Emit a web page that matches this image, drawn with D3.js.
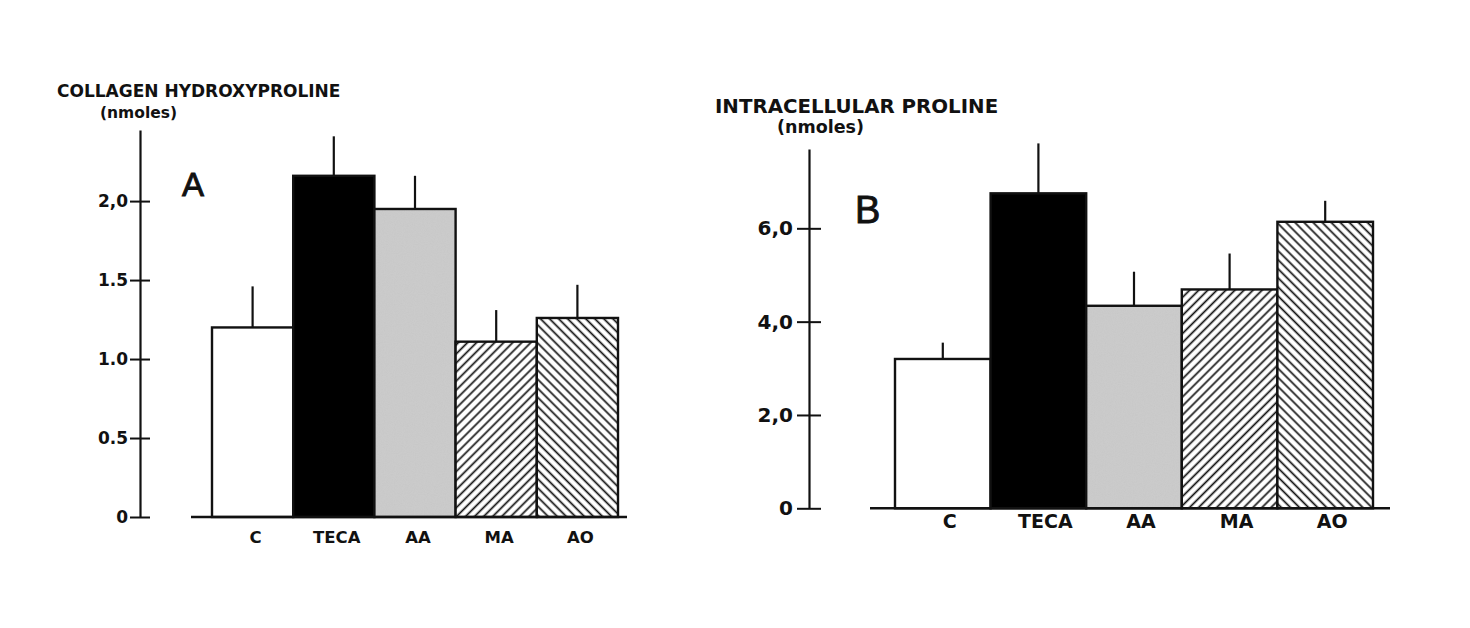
<!DOCTYPE html>
<html>
<head>
<meta charset="utf-8">
<script src="https://cdn.jsdelivr.net/npm/d3@7"></script>
<style>
  body { margin: 0; background: #fff; }
  svg { display: block; }
  .bold { font-family: "DejaVu Sans", sans-serif; font-weight: bold; fill: #111; }
</style>
</head>
<body>
<svg width="1470" height="628"></svg>
<script>
// Data
const categories = ["C", "TECA", "AA", "MA", "AO"];

const collagenMean = [1.2, 2.16, 1.95, 1.11, 1.26];
const collagenErr = [0.26, 0.25, 0.21, 0.2, 0.21];
const collagenTicks = [0, 0.5, 1, 1.5, 2];
const collagenTickLabels = ["0", "0.5", "1.0", "1.5", "2,0"];

const prolineMean = [3.2, 6.75, 4.34, 4.69, 6.14];
const prolineErr = [0.35, 1.07, 0.73, 0.77, 0.45];
const prolineTicks = [0, 2, 4, 6];
const prolineTickLabels = ["0", "2,0", "4,0", "6,0"];

const fills = ["#fff", "#000", "url(#grain)", "url(#hatchUp)", "url(#hatchDown)"];

const svg = d3.select("svg");
svg.append("rect").attr("width", 1470).attr("height", 628).attr("fill", "#fff");

const defs = svg.append("defs");

// hatch patterns
[["hatchUp", 45], ["hatchDown", -45]].forEach(([id, ang]) => {
  const p = defs.append("pattern")
    .attr("id", id)
    .attr("patternUnits", "userSpaceOnUse")
    .attr("width", 6.4).attr("height", 6.4)
    .attr("patternTransform", `rotate(${ang})`);
  p.append("rect").attr("width", 6.4).attr("height", 6.4).attr("fill", "#fff");
  p.append("line")
    .attr("x1", 3.2).attr("y1", 0).attr("x2", 3.2).attr("y2", 6.4)
    .attr("stroke", "#111").attr("stroke-width", 1.7);
});

// grainy grey fill (printed screen tone)
const f = defs.append("filter").attr("id", "noise")
  .attr("x", 0).attr("y", 0).attr("width", "100%").attr("height", "100%");
f.append("feTurbulence").attr("type", "fractalNoise")
  .attr("baseFrequency", 0.9).attr("numOctaves", 2).attr("seed", 3);
f.append("feColorMatrix").attr("type", "matrix")
  .attr("values", "0 0 0 0 0.5  0 0 0 0 0.5  0 0 0 0 0.5  0.25 0.25 0.25 0 -0.3");
const gp = defs.append("pattern").attr("id", "grain")
  .attr("patternUnits", "userSpaceOnUse").attr("width", 200).attr("height", 200);
gp.append("rect").attr("width", 200).attr("height", 200).attr("fill", "#cbcbcb");
gp.append("rect").attr("width", 200).attr("height", 200).attr("filter", "url(#noise)");

function panel(opt) {
  const g = svg.append("g");
  const y = d3.scaleLinear().domain([0, opt.top]).range([opt.y0, opt.yTop]);
  const x = d3.scaleBand().domain(categories).range(opt.xRange).padding(0);

  // y axis with ticks crossing the line
  const ax = g.append("g")
    .attr("transform", `translate(${opt.axisX},0)`)
    .call(d3.axisLeft(y)
      .tickValues(opt.ticks)
      .tickSize(opt.tick)
      .tickSizeOuter(0)
      .tickPadding(opt.pad)
      .tickFormat((d, i) => opt.tickLabels[i]));
  ax.select(".domain").attr("stroke", "#111").attr("stroke-width", 2.2);
  ax.selectAll(".tick line").attr("x1", opt.tick).attr("stroke", "#111").attr("stroke-width", 2);
  ax.selectAll(".tick text")
    .attr("class", "bold")
    .style("font-size", opt.tickFont + "px")
    .attr("font-family", null);

  // bars
  g.selectAll(".bar")
    .data(categories)
    .join("rect")
    .attr("class", "bar")
    .attr("x", d => x(d))
    .attr("width", x.bandwidth())
    .attr("y", (d, i) => y(opt.mean[i]))
    .attr("height", (d, i) => y(0) - y(opt.mean[i]))
    .attr("fill", (d, i) => fills[i])
    .attr("stroke", "#111")
    .attr("stroke-width", 2.4);

  // error bars (upper only)
  g.selectAll(".err")
    .data(categories)
    .join("line")
    .attr("class", "err")
    .attr("x1", d => x(d) + x.bandwidth() / 2)
    .attr("x2", d => x(d) + x.bandwidth() / 2)
    .attr("y1", (d, i) => y(opt.mean[i]))
    .attr("y2", (d, i) => y(opt.mean[i] + opt.err[i]))
    .attr("stroke", "#111")
    .attr("stroke-width", 2.2);

  // baseline
  g.append("line")
    .attr("x1", opt.base[0]).attr("x2", opt.base[1])
    .attr("y1", y(0)).attr("y2", y(0))
    .attr("stroke", "#111").attr("stroke-width", 2.4);

  // category labels
  const xa = g.append("g")
    .attr("transform", `translate(${opt.labelDx},${opt.labelY})`)
    .call(d3.axisBottom(x).tickSize(0).tickPadding(0));
  xa.select(".domain").remove();
  xa.selectAll(".tick text")
    .attr("class", "bold")
    .attr("dy", 0)
    .attr("font-family", null)
    .style("font-size", opt.labelFont + "px");

  // titles
  g.append("text").attr("class", "bold")
    .attr("x", opt.title.x).attr("y", opt.title.y)
    .style("font-size", opt.title.size + "px")
    .text(opt.title.text);
  g.append("text").attr("class", "bold")
    .attr("x", opt.unit.x).attr("y", opt.unit.y)
    .style("font-size", opt.unit.size + "px")
    .text("(nmoles)");
  g.append("text")
    .attr("x", opt.letter.x).attr("y", opt.letter.y)
    .attr("font-family", "Liberation Sans, Arial, sans-serif")
    .style("font-size", opt.letter.size + "px")
    .attr("fill", "#111")
    .attr("stroke", "#111")
    .attr("stroke-width", 0.9)
    .text(opt.letter.text);
}

panel({
  mean: collagenMean, err: collagenErr,
  ticks: collagenTicks, tickLabels: collagenTickLabels,
  top: 2.45, y0: 517, yTop: 130, axisX: 140, tick: 10, pad: 2, tickFont: 17,
  xRange: [212, 618], base: [191, 627],
  labelDx: 3, labelY: 543, labelFont: 16.5,
  title: { text: "COLLAGEN HYDROXYPROLINE", x: 57, y: 97, size: 17 },
  unit: { x: 100, y: 118, size: 15.5 },
  letter: { text: "A", x: 182, y: 196, size: 33 }
});

panel({
  mean: prolineMean, err: prolineErr,
  ticks: prolineTicks, tickLabels: prolineTickLabels,
  top: 7.7, y0: 508.3, yTop: 149, axisX: 809, tick: 12, pad: 4, tickFont: 20,
  xRange: [895, 1373], base: [870, 1390],
  labelDx: 7, labelY: 527.5, labelFont: 19,
  title: { text: "INTRACELLULAR PROLINE", x: 715, y: 112.5, size: 19.8 },
  unit: { x: 777, y: 133, size: 17.5 },
  letter: { text: "B", x: 855, y: 223, size: 38 }
});
</script>
</body>
</html>
